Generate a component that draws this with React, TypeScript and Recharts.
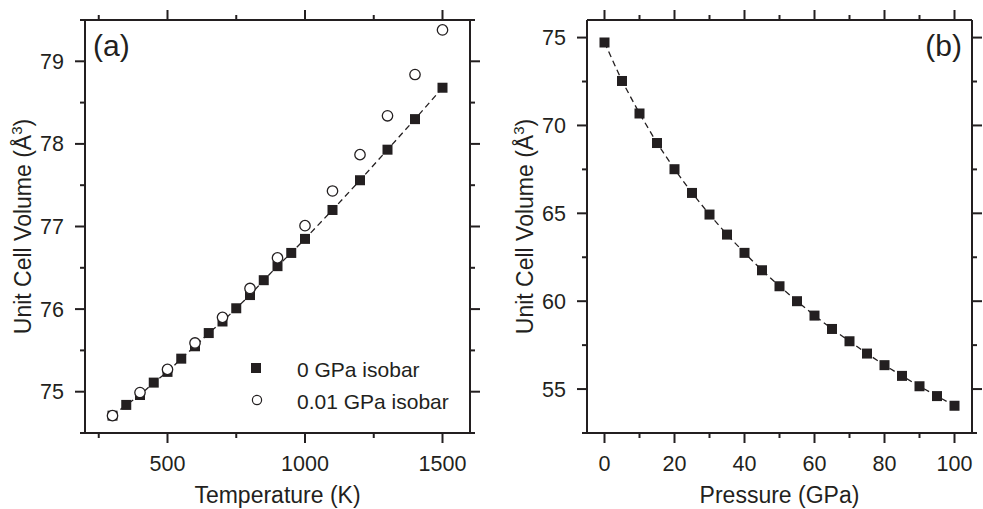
import React from 'react';
import { ScatterChart, Scatter, XAxis, YAxis, Legend, Label } from 'recharts';

// ---- Panel (a): unit cell volume along two isobars ----
const SERIES_0GPA = '0 GPa isobar';
const SERIES_001GPA = '0.01 GPa isobar';

const temperature0GPa = [300, 350, 400, 450, 500, 550, 600, 650, 700, 750, 800, 850, 900, 950, 1000, 1100, 1200, 1300, 1400, 1500];
const volume0GPa = [74.71, 74.84, 74.96, 75.11, 75.24, 75.4, 75.55, 75.71, 75.85, 76.01, 76.17, 76.35, 76.52, 76.68, 76.85, 77.2, 77.56, 77.93, 78.3, 78.68];

const temperature001GPa = [300, 400, 500, 600, 700, 800, 900, 1000, 1100, 1200, 1300, 1400, 1500];
const volume001GPa = [74.71, 74.99, 75.27, 75.59, 75.9, 76.25, 76.62, 77.01, 77.43, 77.87, 78.34, 78.84, 79.38];

// ---- Panel (b): compression curve ----
const pressureGPa = [0, 5, 10, 15, 20, 25, 30, 35, 40, 45, 50, 55, 60, 65, 70, 75, 80, 85, 90, 95, 100];
const volumeVsPressure = [74.72, 72.53, 70.68, 69.0, 67.51, 66.16, 64.93, 63.79, 62.75, 61.76, 60.85, 60.0, 59.18, 58.42, 57.72, 57.02, 56.36, 55.75, 55.16, 54.6, 54.05];

// ---- Axis ticks ----
const tempTicksMajor = [500, 1000, 1500];
const tempTicksMinor = [250, 750, 1250];
const volATicksMajor = [75, 76, 77, 78, 79];
const volATicksMinor = [74.5, 75.5, 76.5, 77.5, 78.5, 79.5];
const pressTicksMajor = [0, 20, 40, 60, 80, 100];
const pressTicksMinor = [10, 30, 50, 70, 90];
const volBTicksMajor = [55, 60, 65, 70, 75];
const volBTicksMinor = [52.5, 57.5, 62.5, 67.5, 72.5];

const INK = '#231f20';
const FONT = '"Liberation Sans", Arial, Helvetica, sans-serif';
const TICK_SIZE = 10;
const TICK_MARGIN = 4;
const OFFSET = TICK_SIZE + TICK_MARGIN;
const MAJOR_LEN = 10;
const MINOR_LEN = 5;

const toPoints = (xs: number[], ys: number[]) => xs.map((x, i) => ({ x, y: ys[i] }));

const isobar0 = toPoints(temperature0GPa, volume0GPa);
const isobar001 = toPoints(temperature001GPa, volume001GPa);
const compression = toPoints(pressureGPa, volumeVsPressure);

type Side = 'bottom' | 'top' | 'left' | 'right';

// Frame-style ticks: long major ticks, short minor ticks, all pointing outward.
function makeTick(side: Side, majors: number[], showLabels: boolean) {
  return function FrameTick(props: any) {
    const { x, y, payload } = props;
    const value = payload.value;
    const major = majors.includes(value);
    const len = major ? MAJOR_LEN : MINOR_LEN;
    let line: React.ReactNode = null;
    let label: React.ReactNode = null;
    if (side === 'bottom') {
      const ay = y - OFFSET;
      line = <line x1={x} x2={x} y1={ay} y2={ay + len} />;
      if (showLabels && major) {
        label = (
          <text x={x} y={ay + 38} textAnchor="middle" fill={INK} stroke="none" fontSize={21.5} fontFamily={FONT}>
            {value}
          </text>
        );
      }
    } else if (side === 'top') {
      const ay = y + OFFSET;
      line = <line x1={x} x2={x} y1={ay} y2={ay - len} />;
    } else if (side === 'left') {
      const ax = x + OFFSET;
      line = <line x1={ax} x2={ax - len} y1={y} y2={y} />;
      if (showLabels && major) {
        label = (
          <text x={ax - 21} y={y + 7.5} textAnchor="end" fill={INK} stroke="none" fontSize={21.5} fontFamily={FONT}>
            {value}
          </text>
        );
      }
    } else {
      const ax = x - OFFSET;
      line = <line x1={ax} x2={ax + len} y1={y} y2={y} />;
    }
    return (
      <g>
        <g stroke={INK} strokeWidth={2}>{line}</g>
        {label}
      </g>
    );
  };
}

const xTitle = (text: string) => (props: any) => {
  const vb = props.viewBox || { x: 0, y: 0, width: 0, height: 0 };
  return (
    <text x={vb.x + vb.width / 2} y={vb.y + 70} textAnchor="middle" fill={INK} fontSize={23} fontFamily={FONT}>
      {text}
    </text>
  );
};

const yTitle = (props: any) => {
  const vb = props.viewBox || { x: 0, y: 0, width: 0, height: 0 };
  const cx = vb.x + vb.width - 54;
  const cy = vb.y + vb.height / 2;
  return (
    <text
      x={cx}
      y={cy}
      textAnchor="middle"
      transform={`rotate(-90, ${cx}, ${cy})`}
      fill={INK}
      fontSize={23}
      fontFamily={FONT}
    >
      <tspan>Unit Cell Volume (Å</tspan>
      <tspan dy={-9} fontSize={15}>3</tspan>
      <tspan dy={9}>)</tspan>
    </text>
  );
};

const panelTag = (text: string, anchor: 'start' | 'end') => (props: any) => {
  const vb = props.viewBox || { x: 0, y: 0, width: 0, height: 0 };
  const x = anchor === 'start' ? vb.x + 8 : vb.x + vb.width - 10;
  return (
    <text x={x} y={vb.y + vb.height + 36} textAnchor={anchor} fill={INK} fontSize={30} fontFamily={FONT}>
      {text}
    </text>
  );
};

const SquareMark = (props: any) => {
  const { cx, cy } = props;
  if (cx == null || cy == null) return null;
  return <rect x={cx - 5} y={cy - 5} width={10} height={10} fill={INK} />;
};

const CircleMark = (props: any) => {
  const { cx, cy } = props;
  if (cx == null || cy == null) return null;
  return <circle cx={cx} cy={cy} r={5.2} fill="#ffffff" stroke={INK} strokeWidth={1.3} />;
};

const IsobarLegend = (props: any) => {
  const payload: any[] = props.payload || [];
  return (
    <svg width={230} height={70} style={{ display: 'block' }}>
      {payload.map((entry, i) => {
        const cy = 18 + i * 32;
        const name = String(entry.value);
        return (
          <g key={name}>
            {name === SERIES_0GPA ? (
              <rect x={11} y={cy - 5} width={10} height={10} fill={INK} />
            ) : (
              <circle cx={17} cy={cy} r={4.6} fill="#ffffff" stroke={INK} strokeWidth={1.2} />
            )}
            <text x={57} y={cy + 8.5} fill={INK} fontSize={21} fontFamily={FONT}>
              {name}
            </text>
          </g>
        );
      })}
    </svg>
  );
};

const dashed = { stroke: INK, strokeWidth: 1.3, strokeDasharray: '6 4' };
const frameLine = { stroke: INK, strokeWidth: 2 };

export default function App() {
  return (
    <div style={{ position: 'absolute', left: 0, top: 0, width: 983, height: 509, background: '#ffffff', fontFamily: FONT }}>
      <div style={{ position: 'absolute', left: 0, top: 0 }}>
        <ScatterChart width={490} height={509} margin={{ top: 0, right: 0, bottom: 0, left: 0 }}>
          <XAxis
            xAxisId="b"
            type="number"
            dataKey="x"
            orientation="bottom"
            domain={[200, 1600]}
            allowDataOverflow
            ticks={[...tempTicksMinor, ...tempTicksMajor].sort((a, b) => a - b)}
            interval={0}
            height={76}
            tickSize={TICK_SIZE}
            tickMargin={TICK_MARGIN}
            tickLine={false}
            axisLine={frameLine}
            tick={makeTick('bottom', tempTicksMajor, true)}
            label={<Label content={xTitle('Temperature (K)')} />}
          />
          <XAxis
            xAxisId="t"
            type="number"
            dataKey="x"
            orientation="top"
            domain={[200, 1600]}
            allowDataOverflow
            ticks={[...tempTicksMinor, ...tempTicksMajor].sort((a, b) => a - b)}
            interval={0}
            height={20}
            tickSize={TICK_SIZE}
            tickMargin={TICK_MARGIN}
            tickLine={false}
            axisLine={frameLine}
            tick={makeTick('top', tempTicksMajor, false)}
            label={<Label content={panelTag('(a)', 'start')} />}
          />
          <YAxis
            yAxisId="l"
            type="number"
            dataKey="y"
            orientation="left"
            domain={[74.5, 79.5]}
            allowDataOverflow
            ticks={[...volATicksMinor, ...volATicksMajor].sort((a, b) => a - b)}
            interval={0}
            width={85}
            tickSize={TICK_SIZE}
            tickMargin={TICK_MARGIN}
            tickLine={false}
            axisLine={frameLine}
            tick={makeTick('left', volATicksMajor, true)}
            label={<Label content={yTitle} />}
          />
          <YAxis
            yAxisId="r"
            type="number"
            dataKey="y"
            orientation="right"
            domain={[74.5, 79.5]}
            allowDataOverflow
            ticks={[...volATicksMinor, ...volATicksMajor].sort((a, b) => a - b)}
            interval={0}
            width={20}
            tickSize={TICK_SIZE}
            tickMargin={TICK_MARGIN}
            tickLine={false}
            axisLine={frameLine}
            tick={makeTick('right', volATicksMajor, false)}
          />
          <Scatter
            name={SERIES_0GPA}
            data={isobar0}
            xAxisId="b"
            yAxisId="l"
            fill={INK}
            line={dashed}
            lineType="joint"
            shape={SquareMark}
            isAnimationActive={false}
          />
          <Scatter
            name={SERIES_001GPA}
            data={isobar001}
            xAxisId="b"
            yAxisId="l"
            fill="#ffffff"
            stroke={INK}
            shape={CircleMark}
            isAnimationActive={false}
          />
          <Legend
            layout="vertical"
            align="center"
            verticalAlign="middle"
            wrapperStyle={{ left: 240, top: 350, width: 230, height: 70 }}
            content={(p: any) => <IsobarLegend payload={p.payload} />}
          />
        </ScatterChart>
      </div>

      <div style={{ position: 'absolute', left: 490, top: 0 }}>
        <ScatterChart width={493} height={509} margin={{ top: 0, right: 0, bottom: 0, left: 0 }}>
          <XAxis
            xAxisId="b"
            type="number"
            dataKey="x"
            orientation="bottom"
            domain={[-5, 105]}
            allowDataOverflow
            ticks={[...pressTicksMinor, ...pressTicksMajor].sort((a, b) => a - b)}
            interval={0}
            height={76}
            tickSize={TICK_SIZE}
            tickMargin={TICK_MARGIN}
            tickLine={false}
            axisLine={frameLine}
            tick={makeTick('bottom', pressTicksMajor, true)}
            label={<Label content={xTitle('Pressure (GPa)')} />}
          />
          <XAxis
            xAxisId="t"
            type="number"
            dataKey="x"
            orientation="top"
            domain={[-5, 105]}
            allowDataOverflow
            ticks={[...pressTicksMinor, ...pressTicksMajor].sort((a, b) => a - b)}
            interval={0}
            height={20}
            tickSize={TICK_SIZE}
            tickMargin={TICK_MARGIN}
            tickLine={false}
            axisLine={frameLine}
            tick={makeTick('top', pressTicksMajor, false)}
            label={<Label content={panelTag('(b)', 'end')} />}
          />
          <YAxis
            yAxisId="l"
            type="number"
            dataKey="y"
            orientation="left"
            domain={[52.5, 76]}
            allowDataOverflow
            ticks={[...volBTicksMinor, ...volBTicksMajor].sort((a, b) => a - b)}
            interval={0}
            width={97}
            tickSize={TICK_SIZE}
            tickMargin={TICK_MARGIN}
            tickLine={false}
            axisLine={frameLine}
            tick={makeTick('left', volBTicksMajor, true)}
            label={<Label content={yTitle} />}
          />
          <YAxis
            yAxisId="r"
            type="number"
            dataKey="y"
            orientation="right"
            domain={[52.5, 76]}
            allowDataOverflow
            ticks={[...volBTicksMinor, ...volBTicksMajor].sort((a, b) => a - b)}
            interval={0}
            width={11}
            tickSize={TICK_SIZE}
            tickMargin={TICK_MARGIN}
            tickLine={false}
            axisLine={frameLine}
            tick={makeTick('right', volBTicksMajor, false)}
          />
          <Scatter
            name="Compression"
            data={compression}
            xAxisId="b"
            yAxisId="l"
            fill={INK}
            line={dashed}
            lineType="joint"
            shape={SquareMark}
            isAnimationActive={false}
          />
        </ScatterChart>
      </div>
    </div>
  );
}
